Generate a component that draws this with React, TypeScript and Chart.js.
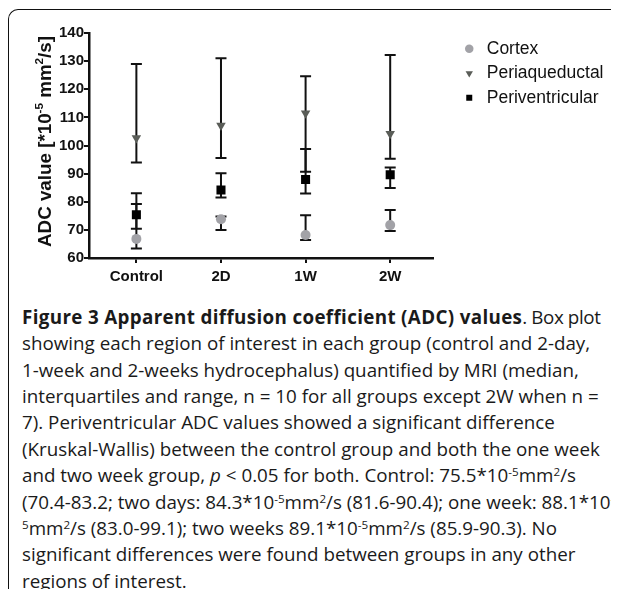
import React, { useEffect, useRef } from "react";
import { Chart, registerables } from "chart.js";

Chart.register(...registerables);

const categories = ["Control", "2D", "1W", "2W"];
const seriesNames = ["Cortex", "Periaqueductal", "Periventricular"];

const cortexMedian = [66.8, 73.8, 68.2, 71.7];
const cortexLow = [63.4, 70.0, 66.4, 69.6];
const cortexHigh = [79.2, 74.8, 75.2, 77.1];

const periaqMedian = [102.7, 107.1, 111.5, 104.2];
const periaqLow = [94.0, 95.6, 90.7, 95.3];
const periaqHigh = [129.0, 131.0, 124.6, 132.2];

const periventMedian = [75.4, 84.2, 87.9, 89.6];
const periventLow = [70.4, 81.5, 82.9, 84.9];
const periventHigh = [83.0, 90.1, 98.8, 92.2];

const yTicks = [60, 70, 80, 90, 100, 110, 120, 130, 140];

const CW = 611;
const CH = 285;
const FAMILY = '"Liberation Sans", Arial, sans-serif';
const LEGEND_FS = 17.5;
const LEGEND_BOX = 20;
const LEGEND_PAD = 7;
const AREA_RIGHT = 422;
const SPACER = 21;

const errorBars = {
  id: "errorBars",
  beforeDatasetsDraw(chart: any) {
    const ctx = chart.ctx;
    const xs = chart.scales.x;
    const ys = chart.scales.y;
    const sets = [
      [cortexLow, cortexHigh],
      [periaqLow, periaqHigh],
      [periventLow, periventHigh],
    ];
    ctx.save();
    ctx.strokeStyle = "#111";
    ctx.lineWidth = 2;
    ctx.lineCap = "butt";
    sets.forEach(([lo, hi]) => {
      lo.forEach((l: number, i: number) => {
        const px = xs.getPixelForValue(i);
        const y1 = ys.getPixelForValue(l);
        const y2 = ys.getPixelForValue(hi[i]);
        ctx.beginPath();
        ctx.moveTo(px, y1);
        ctx.lineTo(px, y2);
        ctx.moveTo(px - 5.5, y1);
        ctx.lineTo(px + 5.5, y1);
        ctx.moveTo(px - 5.5, y2);
        ctx.lineTo(px + 5.5, y2);
        ctx.stroke();
      });
    });
    ctx.restore();
  },
};

const yTitle = {
  id: "yTitle",
  afterDraw(chart: any) {
    const ctx = chart.ctx;
    const fs = 18.8;
    const sfs = fs * 0.62;
    const parts: [string, boolean][] = [
      ["ADC value [*10", false],
      ["-5", true],
      [" mm", false],
      ["2", true],
      ["/s]", false],
    ];
    const main = `bold ${fs}px ${FAMILY}`;
    const sup = `bold ${sfs}px ${FAMILY}`;
    ctx.save();
    let total = 0;
    parts.forEach(([t, s]) => {
      ctx.font = s ? sup : main;
      total += ctx.measureText(t).width;
    });
    ctx.translate(42.5, 131.5);
    ctx.rotate(-Math.PI / 2);
    ctx.fillStyle = "#111";
    ctx.textBaseline = "alphabetic";
    ctx.textAlign = "left";
    let x = -total / 2;
    parts.forEach(([t, s]) => {
      ctx.font = s ? sup : main;
      ctx.fillText(t, x, s ? -fs * 0.42 : 0);
      x += ctx.measureText(t).width;
    });
    ctx.restore();
  },
};

function legendWidth(): number {
  const c = document.createElement("canvas");
  const ctx = c.getContext("2d");
  if (!ctx) return 158;
  ctx.font = `normal ${LEGEND_FS}px ${FAMILY}`;
  let w = 0;
  seriesNames.forEach((n) => {
    w = Math.max(w, ctx.measureText(n).width);
  });
  return LEGEND_PAD + LEGEND_BOX + LEGEND_FS / 2 + w + 10;
}

function ChartView() {
  const ref = useRef<HTMLCanvasElement | null>(null);
  useEffect(() => {
    if (!ref.current) return;
    const tickFont = { family: FAMILY, size: 15, weight: "bold" as const };
    const mk = (vals: number[]) => vals.map((v, i) => ({ x: i, y: v }));
    const lw = legendWidth();
    const padRight = Math.max(0, CW - AREA_RIGHT - SPACER - lw);
    const chart = new Chart(ref.current, {
      type: "scatter",
      data: {
        datasets: [
          {
            label: seriesNames[0],
            data: mk(cortexMedian),
            pointStyle: "circle",
            pointRadius: 5,
            backgroundColor: "#a2a2a7",
            borderColor: "#a2a2a7",
            borderWidth: 0,
          },
          {
            label: seriesNames[1],
            data: mk(periaqMedian),
            pointStyle: "triangle",
            pointRotation: 180,
            pointRadius: 5.5,
            backgroundColor: "#5a5d58",
            borderColor: "#5a5d58",
            borderWidth: 0,
          },
          {
            label: seriesNames[2],
            data: mk(periventMedian),
            pointStyle: "rect",
            pointRadius: 6.4,
            backgroundColor: "#000",
            borderColor: "#000",
            borderWidth: 0,
          },
        ],
      },
      options: {
        animation: false,
        responsive: false,
        devicePixelRatio: 1,
        layout: { padding: { left: 0, top: 23, right: padRight, bottom: 0 } },
        plugins: {
          tooltip: { enabled: false },
          legend: {
            position: "right",
            align: "start",
            maxWidth: Math.ceil(lw) + 2,
            labels: {
              usePointStyle: true,
              boxWidth: LEGEND_BOX,
              boxHeight: 6,
              padding: LEGEND_PAD,
              color: "#111",
              font: { family: FAMILY, size: LEGEND_FS },
            },
          },
        },
        scales: {
          x: {
            type: "linear",
            min: -0.56,
            max: 3.5,
            afterBuildTicks: (s: any) => {
              s.ticks = categories.map((_, i) => ({ value: i }));
            },
            afterFit: (s: any) => {
              s.height = 37;
            },
            ticks: {
              autoSkip: false,
              maxRotation: 0,
              padding: 4.5,
              color: "#111",
              font: tickFont,
              callback: (v: any) => categories[v as number] ?? "",
            },
            grid: { drawOnChartArea: false, drawTicks: true, tickLength: 5, lineWidth: 2, color: "#111" },
            border: { display: true, width: 2.5, color: "#111" },
          },
          y: {
            type: "linear",
            position: "left",
            min: 60,
            max: 140,
            afterBuildTicks: (s: any) => {
              s.ticks = yTicks.map((v) => ({ value: v }));
            },
            afterFit: (s: any) => {
              s.width = 81;
            },
            ticks: { padding: 0, color: "#111", font: tickFont },
            grid: { drawOnChartArea: false, drawTicks: true, tickLength: 5, lineWidth: 2, color: "#111" },
            border: { display: true, width: 2.5, color: "#111" },
          },
          spacer: {
            type: "linear",
            position: "right",
            display: true,
            ticks: { display: false },
            grid: { display: false },
            border: { display: false },
            afterFit: (s: any) => {
              s.width = SPACER;
            },
          },
        },
      },
      plugins: [errorBars, yTitle],
    } as any);
    return () => chart.destroy();
  }, []);
  return <canvas ref={ref} width={CW} height={CH} style={{ display: "block" }} />;
}

const supStyle: React.CSSProperties = {
  fontSize: "0.62em",
  position: "relative",
  top: "-0.5em",
  verticalAlign: "baseline",
  lineHeight: 0,
};

const S = ({ children }: { children: React.ReactNode }) => <span style={supStyle}>{children}</span>;

export default function App() {
  const lineStyle: React.CSSProperties = { whiteSpace: "nowrap", height: 26.4, lineHeight: "26.4px" };
  return (
    <div style={{ position: "relative", width: 611, height: 580, marginTop: 1 }}>
      <style>{"html,body{overflow:hidden}"}</style>
      <div
        style={{
          position: "absolute",
          left: 0,
          top: 0,
          width: 640,
          height: 640,
          borderTop: "1.3px solid #111",
          borderLeft: "1.3px solid #111",
          borderTopLeftRadius: 10,
          boxSizing: "border-box",
        }}
      />
      <div style={{ position: "absolute", left: 0, top: 1, width: CW, height: CH }}>
        <ChartView />
      </div>
      <div
        style={{
          position: "absolute",
          left: 14,
          top: 294.8,
          fontFamily: '"Open Sans", sans-serif',
          fontSize: 18.8,
          color: "#1a1a1a",
        }}
      >
        <div style={lineStyle}>
          <b style={{ letterSpacing: 0.35 }}>Figure 3 Apparent diffusion coefficient (ADC) values</b>
          <span style={{ letterSpacing: -0.4 }}>. Box plot</span>
        </div>
        <div style={lineStyle}>showing each region of interest in each group (control and 2-day,</div>
        <div style={lineStyle}>1-week and 2-weeks hydrocephalus) quantified by MRI (median,</div>
        <div style={lineStyle}>interquartiles and range, n = 10 for all groups except 2W when n =</div>
        <div style={lineStyle}>7). Periventricular ADC values showed a significant difference</div>
        <div style={lineStyle}>(Kruskal-Wallis) between the control group and both the one week</div>
        <div style={lineStyle}>
          and two week group, <i>p</i> &lt; 0.05 for both. Control: 75.5*10<S>-5</S>mm<S>2</S>/s
        </div>
        <div style={lineStyle}>
          (70.4-83.2; two days: 84.3*10<S>-5</S>mm<S>2</S>/s (81.6-90.4); one week: 88.1*10<S>-</S>
        </div>
        <div style={lineStyle}>
          <S>5</S>mm<S>2</S>/s (83.0-99.1); two weeks 89.1*10<S>-5</S>mm<S>2</S>/s (85.9-90.3). No
        </div>
        <div style={lineStyle}>significant differences were found between groups in any other</div>
        <div style={lineStyle}>regions of interest.</div>
      </div>
    </div>
  );
}
